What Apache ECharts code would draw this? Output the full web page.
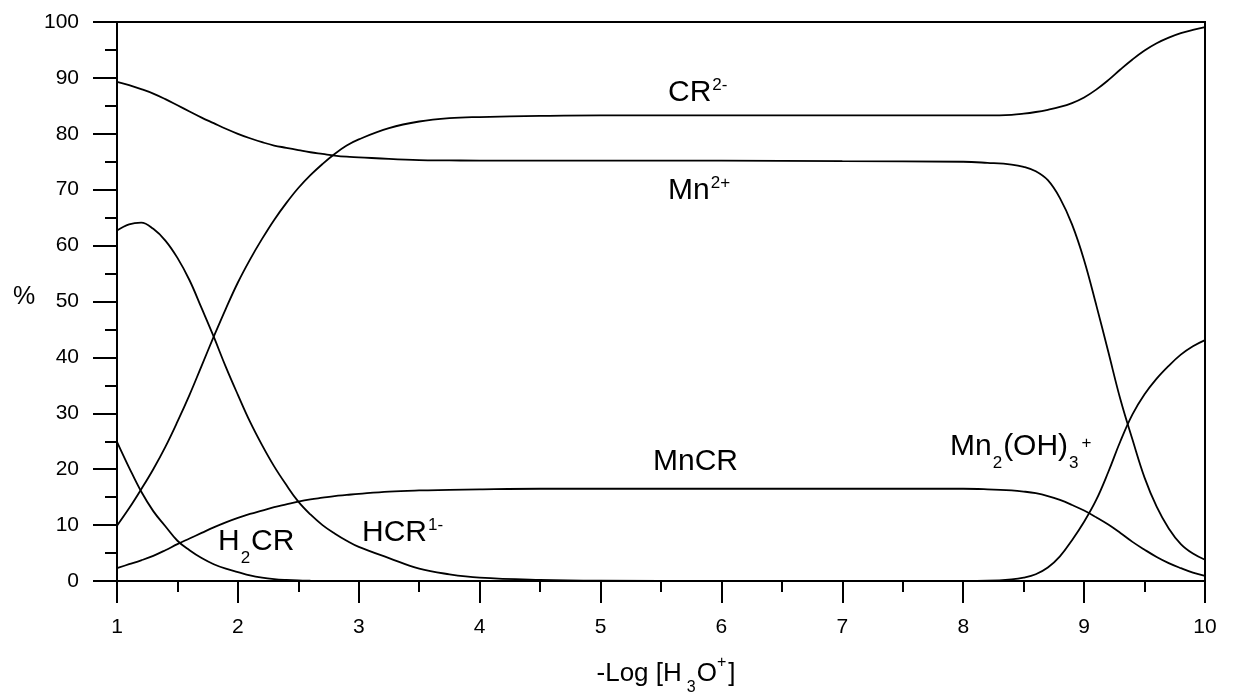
<!DOCTYPE html>
<html>
<head>
<meta charset="utf-8">
<title>Species distribution vs -Log [H3O+]</title>
<script src="https://cdn.jsdelivr.net/npm/echarts@6/dist/echarts.min.js"></script>
<style>
  html, body { margin: 0; padding: 0; background: #fff; }
  #chart { width: 1234px; height: 698px; }
</style>
</head>
<body>
<div id="chart"></div>
<script>
// -Log [H3O+] sampling points shared by every species curve
const pH = [1, 1.1, 1.2, 1.3, 1.4, 1.5, 1.6, 1.7, 1.8, 1.9, 2, 2.1, 2.2, 2.3, 2.4, 2.5, 2.6, 2.7, 2.8, 2.9, 3,
            3.25, 3.5, 3.75, 4, 4.5, 5, 6, 7, 8,
            8.2, 8.4, 8.5, 8.6, 8.7, 8.8, 8.9, 9, 9.1, 9.2, 9.3, 9.4, 9.5, 9.6, 9.7, 9.8, 9.9, 10];

// Percent of each species at the points above
const mn2plus = [89.3, 88.7, 88.0, 87.2, 86.2, 85.1, 84.0, 82.9, 81.9, 80.9, 80.0, 79.2, 78.5, 77.9, 77.5, 77.1, 76.7, 76.4, 76.1, 75.9, 75.8,
                 75.5, 75.3, 75.25, 75.2, 75.2, 75.2, 75.2, 75.1, 75.0,
                 74.8, 74.5, 74.1, 73.3, 71.7, 68.5, 63.8, 57.4, 49.4, 41.0, 32.5, 25.3, 18.5, 13.3, 9.4, 6.6, 4.9, 3.8];
const cr2minus = [9.9, 13.0, 16.4, 20.0, 24.0, 28.5, 33.3, 38.5, 43.7, 48.7, 53.4, 57.5, 61.2, 64.6, 67.6, 70.3, 72.6, 74.6, 76.4, 77.9, 79.0,
                  81.0, 82.2, 82.8, 83.0, 83.2, 83.3, 83.3, 83.3, 83.3,
                  83.3, 83.4, 83.6, 83.9, 84.3, 84.8, 85.5, 86.5, 87.9, 89.6, 91.5, 93.3, 94.9, 96.2, 97.2, 98.0, 98.6, 99.1];
const hcr1minus = [62.7, 63.8, 64.1, 63.0, 60.9, 57.8, 53.8, 48.8, 43.7, 38.3, 33.3, 28.5, 24.3, 20.5, 17.2, 14.2, 11.9, 10.0, 8.5, 7.2, 6.1,
                   4.1, 2.2, 1.2, 0.6, 0.2, 0.05, 0, 0, 0,
                   0, 0, 0, 0, 0, 0, 0, 0, 0, 0, 0, 0, 0, 0, 0, 0, 0, 0];
const h2cr = [24.9, 20.3, 16.0, 12.5, 9.8, 7.2, 5.5, 4.1, 3.0, 2.2, 1.6, 1.0, 0.6, 0.35, 0.2, 0.1, 0.05, 0.02, 0, 0, 0,
              0, 0, 0, 0, 0, 0, 0, 0, 0,
              0, 0, 0, 0, 0, 0, 0, 0, 0, 0, 0, 0, 0, 0, 0, 0, 0, 0];
const mncr = [2.3, 3.0, 3.7, 4.5, 5.5, 6.6, 7.6, 8.6, 9.6, 10.5, 11.3, 12.0, 12.6, 13.2, 13.7, 14.2, 14.6, 14.9, 15.2, 15.4, 15.6,
              16.0, 16.2, 16.3, 16.4, 16.5, 16.5, 16.5, 16.5, 16.5,
              16.4, 16.2, 16.0, 15.7, 15.2, 14.5, 13.6, 12.6, 11.4, 10.1, 8.6, 7.0, 5.6, 4.3, 3.2, 2.3, 1.5, 0.9];
const mn2oh3 = [0, 0, 0, 0, 0, 0, 0, 0, 0, 0, 0, 0, 0, 0, 0, 0, 0, 0, 0, 0, 0,
                0, 0, 0, 0, 0, 0, 0, 0, 0,
                0.05, 0.3, 0.6, 1.2, 2.4, 4.4, 7.3, 10.6, 14.5, 19.5, 25.0, 29.8, 33.4, 36.2, 38.5, 40.5, 42.0, 43.1];

// Axis ranges
const xMin = 1, xMax = 10, xStep = 1;
const yMin = 0, yMax = 100, yStep = 10;

const FONT = "'Liberation Sans', Arial, Helvetica, sans-serif";

const seriesList = [
  { name: 'Mn2+', values: mn2plus },
  { name: 'CR2-', values: cr2minus },
  { name: 'HCR1-', values: hcr1minus },
  { name: 'H2CR', values: h2cr },
  { name: 'MnCR', values: mncr },
  { name: 'Mn2(OH)3+', values: mn2oh3 }
];

// rich-text styles for chemical formulas (subscripts / superscripts)
const richLabel = {
  m:    { fontSize: 30, lineHeight: 50, fontFamily: FONT, fill: '#000' },
  sup:  { fontSize: 17, verticalAlign: 'top', padding: [9, 0, 0, 1], fontFamily: FONT, fill: '#000' },
  supl: { fontSize: 17, verticalAlign: 'top', padding: [13, 0, 0, 2], fontFamily: FONT, fill: '#000' },
  sub:  { fontSize: 17, verticalAlign: 'bottom', padding: [0, 1, 0, 1], fontFamily: FONT, fill: '#000' }
};
const richTitle = {
  m:   { fontSize: 26, lineHeight: 44, fontFamily: FONT, fill: '#000' },
  sup: { fontSize: 16, verticalAlign: 'top', padding: [3, 2, 0, 0], fontFamily: FONT, fill: '#000' },
  sub: { fontSize: 16, verticalAlign: 'bottom', padding: [0, 1, 0, 5], fontFamily: FONT, fill: '#000' }
};

function formula(x, y, text, rich, align) {
  return {
    type: 'text',
    x: x, y: y,
    z: 10,
    style: { text: text, rich: rich, align: align || 'left', verticalAlign: 'top', font: '30px ' + FONT }
  };
}

const chart = echarts.init(document.getElementById('chart'), null, { renderer: 'canvas' });

chart.setOption({
  animation: false,
  backgroundColor: '#fff',
  grid: {
    left: 117, right: 29, top: 22, bottom: 117,
    show: true, borderColor: '#000', borderWidth: 2, backgroundColor: 'transparent'
  },
  xAxis: {
    type: 'value',
    min: xMin, max: xMax, interval: xStep,
    axisLine: { show: true, onZero: false, lineStyle: { color: '#000', width: 2 } },
    axisTick: { show: true, inside: false, length: 22, lineStyle: { color: '#000', width: 2 } },
    minorTick: { show: true, splitNumber: 2, length: 11, lineStyle: { color: '#000', width: 2 } },
    splitLine: { show: false },
    axisLabel: { color: '#000', fontSize: 21, fontFamily: FONT, margin: 36 }
  },
  yAxis: {
    type: 'value',
    min: yMin, max: yMax, interval: yStep,
    axisLine: { show: true, lineStyle: { color: '#000', width: 2 } },
    axisTick: { show: true, inside: false, length: 24, lineStyle: { color: '#000', width: 2 } },
    minorTick: { show: true, splitNumber: 2, length: 12, lineStyle: { color: '#000', width: 2 } },
    splitLine: { show: false },
    axisLabel: { color: '#000', fontSize: 21, fontFamily: FONT, margin: 38 }
  },
  series: seriesList.map(s => ({
    name: s.name,
    type: 'line',
    data: pH.map((x, i) => [x, s.values[i]]),
    smooth: 0.4,
    showSymbol: false,
    symbol: 'none',
    lineStyle: { color: '#000', width: 1.8 },
    clip: true
  })),
  graphic: [
    formula(668, 68,  '{m|CR}{sup|2-}', richLabel),
    formula(668, 166, '{m|Mn}{sup|2+}', richLabel),
    formula(653, 437, '{m|MnCR}', richLabel),
    formula(218, 517, '{m|H}{sub|2}{m|CR}', richLabel),
    formula(362, 508, '{m|HCR}{sup|1-}', richLabel),
    formula(950, 422, '{m|Mn}{sub|2}{m|(OH)}{sub|3}{supl|+}', richLabel),
    formula(666, 652, '{m|-Log [H}{sub|3}{m|O}{sup|+}{m|]}', richTitle, 'center'),
    {
      type: 'text', x: 24, y: 297, z: 10,
      style: { text: '%', font: '25px ' + FONT, fill: '#000', align: 'center', verticalAlign: 'middle' }
    }
  ]
});
</script>
</body>
</html>
